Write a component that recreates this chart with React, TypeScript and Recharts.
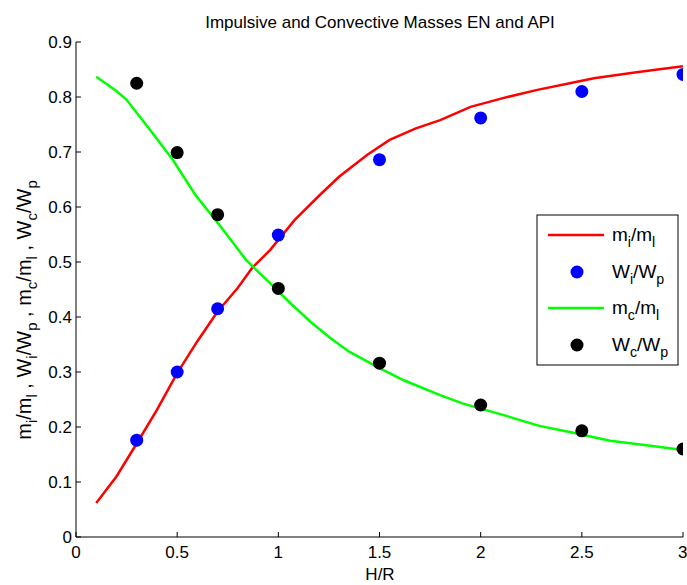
import React from "react";
import {
  ComposedChart,
  Line,
  Scatter,
  XAxis,
  YAxis,
  Customized,
} from "recharts";

// H/R values and ratios
const impulsiveCurveHR = [0.1, 0.2, 0.3, 0.4, 0.5, 0.6, 0.7, 0.8, 0.87, 0.96, 1.08, 1.2, 1.3, 1.44, 1.55, 1.68, 1.8, 1.95, 2.11, 2.28, 2.44, 2.56, 2.77, 3.0];
const impulsiveCurve = [0.062, 0.11, 0.17, 0.231, 0.298, 0.356, 0.41, 0.453, 0.489, 0.522, 0.576, 0.62, 0.655, 0.695, 0.722, 0.743, 0.758, 0.782, 0.798, 0.813, 0.825, 0.834, 0.845, 0.856];

const convectiveCurveHR = [0.1, 0.2, 0.25, 0.36, 0.48, 0.59, 0.71, 0.84, 0.96, 1.06, 1.16, 1.26, 1.35, 1.5, 1.62, 1.8, 1.91, 2.11, 2.29, 2.44, 2.64, 2.82, 3.0];
const convectiveCurve = [0.837, 0.811, 0.795, 0.743, 0.685, 0.622, 0.567, 0.504, 0.461, 0.425, 0.391, 0.361, 0.337, 0.307, 0.285, 0.258, 0.243, 0.222, 0.202, 0.191, 0.175, 0.167, 0.158];

const pointsHR = [0.3, 0.5, 0.7, 1.0, 1.5, 2.0, 2.5, 3.0];
const impulsiveWeight = [0.176, 0.3, 0.415, 0.549, 0.686, 0.762, 0.81, 0.841];
const convectiveWeight = [0.825, 0.699, 0.586, 0.452, 0.316, 0.24, 0.193, 0.16];

const xTicks = [0, 0.5, 1, 1.5, 2, 2.5, 3];
const yTicks = [0, 0.1, 0.2, 0.3, 0.4, 0.5, 0.6, 0.7, 0.8, 0.9];

const zip = (xs: number[], ys: number[]) => xs.map((x, i) => ({ x, y: ys[i] }));

const miData = zip(impulsiveCurveHR, impulsiveCurve);
const mcData = zip(convectiveCurveHR, convectiveCurve);
const wiData = zip(pointsHR, impulsiveWeight);
const wcData = zip(pointsHR, convectiveWeight);

const FONT = "'Liberation Sans', Arial, Helvetica, sans-serif";
const FS = 17;
const LABEL_FS = 20;
const LEGEND_FS = 19;

const dot = (color: string) => (props: any) => (
  <circle cx={props.cx} cy={props.cy} r={6.5} fill={color} />
);

// a/b with subscripts, as SVG tspans
const Frac = ({ a, sa, b, sb, size }: { a: string; sa: string; b: string; sb: string; size: number }) => {
  const sub = size * 0.75;
  const shift = size * 0.32;
  return (
    <>
      <tspan fontSize={size}>{a}</tspan>
      <tspan fontSize={sub} dy={shift}>{sa}</tspan>
      <tspan fontSize={size} dy={-shift}>/{b}</tspan>
      <tspan fontSize={sub} dy={shift}>{sb}</tspan>
      <tspan fontSize={size} dy={-shift}>{"\u200b"}</tspan>
    </>
  );
};

const Decorations = () => {
  const lx = 537;
  const ly = 215;
  return (
    <g fontFamily={FONT} fill="#000">
      <text x={380} y={28} textAnchor="middle" fontSize={FS}>
        Impulsive and Convective Masses EN and API
      </text>
      <text x={380} y={580} textAnchor="middle" fontSize={FS}>
        H/R
      </text>
      <text transform="rotate(-90)" x={-310} y={31} textAnchor="middle" fontSize={LABEL_FS}>
        <Frac a="m" sa="i" b="m" sb="l" size={LABEL_FS} />
        <tspan fontSize={LABEL_FS}> , </tspan>
        <Frac a="W" sa="i" b="W" sb="p" size={LABEL_FS} />
        <tspan fontSize={LABEL_FS}> , </tspan>
        <Frac a="m" sa="c" b="m" sb="l" size={LABEL_FS} />
        <tspan fontSize={LABEL_FS}> , </tspan>
        <Frac a="W" sa="c" b="W" sb="p" size={LABEL_FS} />
      </text>

      <rect x={lx} y={ly} width={141} height={150} fill="#fff" stroke="#000" strokeWidth={1} />
      <line x1={lx + 11} x2={lx + 67} y1={ly + 20} y2={ly + 20} stroke="#ff0000" strokeWidth={2.5} />
      <circle cx={lx + 40} cy={ly + 57} r={6.5} fill="#0000ff" />
      <line x1={lx + 11} x2={lx + 67} y1={ly + 93} y2={ly + 93} stroke="#00ff00" strokeWidth={2.5} />
      <circle cx={lx + 40} cy={ly + 130} r={6.5} fill="#000" />
      <text x={lx + 75} y={ly + 26} fontSize={LEGEND_FS}>
        <Frac a="m" sa="i" b="m" sb="l" size={LEGEND_FS} />
      </text>
      <text x={lx + 75} y={ly + 63} fontSize={LEGEND_FS}>
        <Frac a="W" sa="i" b="W" sb="p" size={LEGEND_FS} />
      </text>
      <text x={lx + 75} y={ly + 99} fontSize={LEGEND_FS}>
        <Frac a="m" sa="c" b="m" sb="l" size={LEGEND_FS} />
      </text>
      <text x={lx + 75} y={ly + 136} fontSize={LEGEND_FS}>
        <Frac a="W" sa="c" b="W" sb="p" size={LEGEND_FS} />
      </text>
    </g>
  );
};

const tickStyle = { fill: "#000", fontSize: FS, fontFamily: FONT };

export default function App() {
  return (
    <div style={{ position: "absolute", left: 0, top: 0, background: "#fff" }}>
      <ComposedChart
        width={687}
        height={585}
        margin={{ top: 42, right: 4, bottom: 0, left: 0 }}
      >
        <XAxis
          xAxisId="b"
          dataKey="x"
          type="number"
          domain={[0, 3]}
          ticks={xTicks}
          height={48}
          tickSize={-5}
          tickMargin={14}
          stroke="#000"
          tick={tickStyle}
          tickFormatter={(v: number) => String(v)}
          allowDataOverflow
        />
        <XAxis
          xAxisId="t"
          orientation="top"
          type="number"
          domain={[0, 3]}
          ticks={xTicks}
          height={0}
          tickSize={-5}
          tick={false}
          stroke="#000"
          allowDataOverflow
        />
        <YAxis
          yAxisId="l"
          dataKey="y"
          type="number"
          domain={[0, 0.9]}
          ticks={yTicks}
          width={76}
          tickSize={-5}
          tickMargin={9}
          stroke="#000"
          tick={tickStyle}
          tickFormatter={(v: number) => String(v)}
          allowDataOverflow
        />
        <YAxis
          yAxisId="r"
          orientation="right"
          type="number"
          domain={[0, 0.9]}
          ticks={yTicks}
          width={0}
          tickSize={-5}
          tick={false}
          stroke="#000"
          allowDataOverflow
        />
        <Line
          xAxisId="b"
          yAxisId="l"
          data={miData}
          dataKey="y"
          type="linear"
          stroke="#ff0000"
          strokeWidth={2.5}
          dot={false}
          isAnimationActive={false}
        />
        <Line
          xAxisId="b"
          yAxisId="l"
          data={mcData}
          dataKey="y"
          type="linear"
          stroke="#00ff00"
          strokeWidth={2.5}
          dot={false}
          isAnimationActive={false}
        />
        <Scatter
          xAxisId="b"
          yAxisId="l"
          data={wiData}
          dataKey="y"
          shape={dot("#0000ff")}
          isAnimationActive={false}
        />
        <Scatter
          xAxisId="b"
          yAxisId="l"
          data={wcData}
          dataKey="y"
          shape={dot("#000000")}
          isAnimationActive={false}
        />
        <Customized component={Decorations} />
      </ComposedChart>
    </div>
  );
}
